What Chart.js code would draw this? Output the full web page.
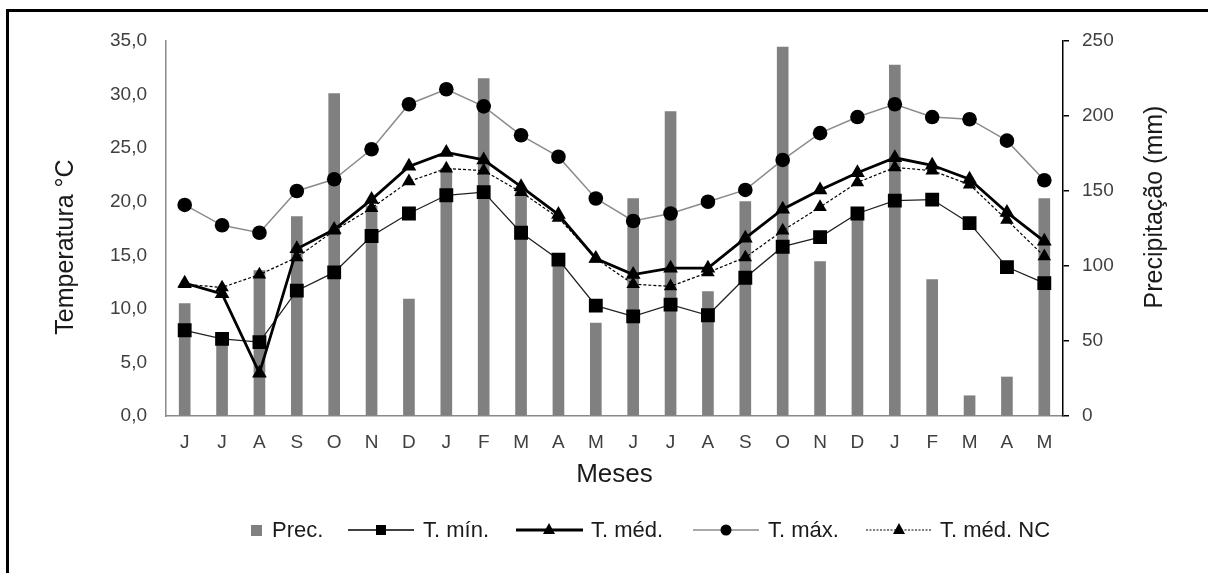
<!DOCTYPE html>
<html>
<head>
<meta charset="utf-8">
<script src="https://cdn.jsdelivr.net/npm/chart.js@4.4.1/dist/chart.umd.min.js"></script>
<style>
html, body { margin: 0; padding: 0; background: #fff; }
#wrap { position: relative; width: 1208px; height: 573px; overflow: hidden; background: #fff; }
#frame { position: absolute; left: 6px; top: 9px; width: 1300px; height: 700px; border: 3px solid #000; box-sizing: border-box; }
#c { position: absolute; left: 0; top: 0; }
#legsym { position: absolute; left: 0; top: 513px; }
.leg { position: absolute; top: 530px; transform: translateY(-50%); font-family: 'Liberation Sans Narrow', 'Liberation Sans', Arial, sans-serif; font-stretch: condensed; font-size: 22px; line-height: 1; color: #1a1a1a; white-space: nowrap; }
</style>
</head>
<body>
<div id="wrap">
  <div id="frame"></div>
  <canvas id="c" width="1208" height="573"></canvas>
  <svg id="legsym" width="1208" height="34">
    <rect x="251" y="12" width="11" height="11" fill="#808080"/>
    <line x1="348" y1="17" x2="414" y2="17" stroke="#000" stroke-width="1.3"/>
    <rect x="376" y="12" width="10" height="10" fill="#000"/>
    <line x1="516" y1="17" x2="583" y2="17" stroke="#000" stroke-width="2.8"/>
    <polygon points="549,10 555,21 543,21" fill="#000"/>
    <line x1="693" y1="17" x2="759" y2="17" stroke="#8c8c8c" stroke-width="1.5"/>
    <circle cx="726" cy="17" r="5.5" fill="#000"/>
    <line x1="866" y1="17" x2="932" y2="17" stroke="#000" stroke-width="1.2" stroke-dasharray="2,1.5"/>
    <polygon points="899,10 905,21 893,21" fill="#000"/>
  </svg>
  <span class="leg" style="left:272px">Prec.</span>
  <span class="leg" style="left:423px">T. mín.</span>
  <span class="leg" style="left:591px">T. méd.</span>
  <span class="leg" style="left:768px">T. máx.</span>
  <span class="leg" style="left:940px">T. méd. NC</span>
</div>
<script>
// Meses (junho a maio, dois anos)
const months = ['J', 'J', 'A', 'S', 'O', 'N', 'D', 'J', 'F', 'M', 'A', 'M',
                'J', 'J', 'A', 'S', 'O', 'N', 'D', 'J', 'F', 'M', 'A', 'M'];

// Precipitação (mm)
const prec = [75, 50, 97, 133, 215, 140, 78, 165, 225, 150, 100, 62,
              145, 203, 83, 143, 246, 103, 135, 234, 91, 13.5, 26, 145];

// Temperaturas (°C)
const tMin = [8.0, 7.2, 6.9, 11.7, 13.4, 16.8, 18.9, 20.6, 20.9, 17.1, 14.6, 10.3,
              9.3, 10.4, 9.4, 12.9, 15.8, 16.7, 18.9, 20.1, 20.2, 18.0, 13.9, 12.4];
const tMed = [12.4, 11.4, 4.0, 15.6, 17.4, 20.2, 23.3, 24.6, 23.9, 21.4, 18.8, 14.7,
              13.2, 13.8, 13.8, 16.6, 19.3, 21.1, 22.7, 24.1, 23.4, 22.1, 19.0, 16.3];
const tMax = [19.7, 17.8, 17.1, 21.0, 22.1, 24.9, 29.1, 30.5, 28.9, 26.2, 24.2, 20.3,
              18.2, 18.9, 20.0, 21.1, 23.9, 26.4, 27.9, 29.1, 27.9, 27.7, 25.7, 22.0];
const tMedNC = [12.3, 12.0, 13.2, 14.8, 17.3, 19.4, 21.9, 23.1, 22.9, 20.9, 18.5, 14.7,
                12.3, 12.1, 13.4, 14.8, 17.3, 19.5, 21.8, 23.2, 22.9, 21.6, 18.3, 14.9];

// Eixos
const tempAxis = { min: 0, max: 35, step: 5 };
const precAxis = { min: 0, max: 250, step: 50 };

const tickFont = { family: "'Liberation Sans', Arial, sans-serif", size: 19 };
const tickColor = '#404040';

// Títulos dos eixos verticais (ambos lidos de baixo para cima)
const axisTitles = {
    id: 'axisTitles',
    afterDraw(chart) {
        const ctx = chart.ctx;
        ctx.save();
        ctx.font = "25px 'Liberation Sans', Arial, sans-serif";
        ctx.fillStyle = '#1a1a1a';
        ctx.textAlign = 'center';
        ctx.textBaseline = 'alphabetic';
        ctx.translate(73, 247);
        ctx.rotate(-Math.PI / 2);
        ctx.fillText('Temperatura °C', 0, 0);
        ctx.restore();

        ctx.save();
        ctx.font = "25px 'Liberation Sans', Arial, sans-serif";
        ctx.fillStyle = '#1a1a1a';
        ctx.textAlign = 'center';
        ctx.textBaseline = 'alphabetic';
        ctx.translate(1162, 207);
        ctx.rotate(-Math.PI / 2);
        ctx.fillText('Precipitação (mm)', 0, 0);
        ctx.restore();
    }
};

const ctx = document.getElementById('c').getContext('2d');
new Chart(ctx, {
    data: {
        labels: months,
        datasets: [
            {
                type: 'line',
                label: 'T. méd.',
                data: tMed,
                yAxisID: 'y',
                borderColor: '#000',
                borderWidth: 2.8,
                pointStyle: 'triangle',
                pointRadius: 8.5,
                pointBackgroundColor: '#000',
                pointBorderColor: '#000',
                pointBorderWidth: 0,
                order: 1
            },
            {
                type: 'line',
                label: 'T. mín.',
                data: tMin,
                yAxisID: 'y',
                borderColor: '#222',
                borderWidth: 1.3,
                pointStyle: 'rect',
                pointRadius: 9.8,
                pointBackgroundColor: '#000',
                pointBorderColor: '#000',
                pointBorderWidth: 0,
                order: 2
            },
            {
                type: 'line',
                label: 'T. máx.',
                data: tMax,
                yAxisID: 'y',
                borderColor: '#8c8c8c',
                borderWidth: 1.5,
                pointStyle: 'circle',
                pointRadius: 7.3,
                pointBackgroundColor: '#000',
                pointBorderColor: '#000',
                pointBorderWidth: 0,
                order: 3
            },
            {
                type: 'line',
                label: 'T. méd. NC',
                data: tMedNC,
                yAxisID: 'y',
                borderColor: '#000',
                borderWidth: 1.2,
                borderDash: [3, 2],
                pointStyle: 'triangle',
                pointRadius: 7.8,
                pointBackgroundColor: '#000',
                pointBorderColor: '#000',
                pointBorderWidth: 0,
                order: 4
            },
            {
                type: 'bar',
                label: 'Prec.',
                data: prec,
                yAxisID: 'y1',
                backgroundColor: '#808080',
                barThickness: 11,
                order: 10
            }
        ]
    },
    options: {
        responsive: false,
        animation: false,
        devicePixelRatio: 1,
        layout: { padding: { left: 10, right: 8, top: 41, bottom: 77 } },
        plugins: {
            legend: { display: false },
            tooltip: { enabled: false }
        },
        scales: {
            x: {
                type: 'category',
                offset: true,
                grid: { display: false, drawTicks: false },
                border: { display: true, color: '#8a8a8a', width: 1.5 },
                ticks: { font: tickFont, color: tickColor, padding: 15, maxRotation: 0, autoSkip: false },
                title: {
                    display: true,
                    text: 'Meses',
                    color: '#1a1a1a',
                    font: { family: "'Liberation Sans', Arial, sans-serif", size: 26 },
                    padding: { top: 0, bottom: 6 }
                },
                afterFit(scale) { scale.height = 80; }
            },
            y: {
                position: 'left',
                min: tempAxis.min,
                max: tempAxis.max,
                grid: { display: false, drawTicks: false },
                border: { display: true, color: '#8a8a8a', width: 1.5 },
                ticks: {
                    stepSize: tempAxis.step,
                    font: tickFont,
                    color: tickColor,
                    padding: 19,
                    callback: v => v.toFixed(1).replace('.', ',')
                },
                afterFit(scale) { scale.width = 156; }
            },
            y1: {
                position: 'right',
                min: precAxis.min,
                max: precAxis.max,
                grid: { drawOnChartArea: false, drawTicks: true, tickLength: 6, color: '#000', lineWidth: 1.5 },
                border: { display: true, color: '#000', width: 1.5 },
                ticks: { stepSize: precAxis.step, font: tickFont, color: tickColor, padding: 13 },
                afterFit(scale) { scale.width = 137; }
            }
        }
    },
    plugins: [axisTitles]
});
</script>
</body>
</html>
